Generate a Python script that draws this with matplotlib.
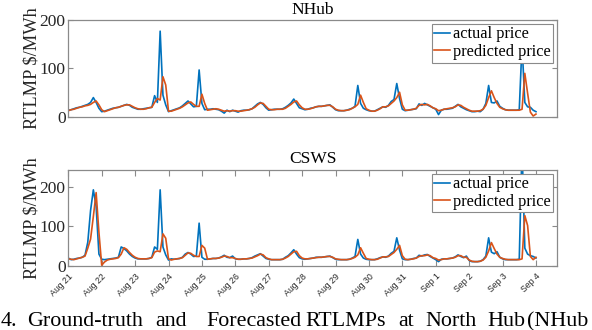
import numpy as np
import matplotlib
matplotlib.use('Agg')
import matplotlib.pyplot as plt

# ---------------- data (2-hour samples starting Aug 21 00:00) ----------------
step_hours = 2
day_labels = ['Aug 21', 'Aug 22', 'Aug 23', 'Aug 24', 'Aug 25', 'Aug 26', 'Aug 27',
              'Aug 28', 'Aug 29', 'Aug 30', 'Aug 31', 'Sep 1', 'Sep 2', 'Sep 3', 'Sep 4']

nhub_actual = [
    14, 15, 17, 19, 20, 22, 24, 26, 30, 40, 30, 18,
    11, 12, 14, 16, 18, 19, 20, 22, 24, 26, 24, 20,
    18, 16, 16, 17, 18, 19, 20, 44, 30, 177, 45, 25,
    11, 13, 15, 17, 19, 23, 28, 33, 27, 21, 22, 97,
    28, 15, 16, 16, 17, 16, 15, 12, 8, 14, 11, 14,
    12, 10, 13, 14, 14, 15, 17, 22, 27, 30, 26, 19,
    14, 15, 16, 16, 16, 17, 20, 24, 29, 37, 28, 19,
    17, 15, 16, 18, 19, 21, 22, 22, 23, 24, 25, 20,
    15, 13, 13, 13, 14, 16, 18, 22, 65, 28, 18, 15,
    13, 12, 12, 15, 18, 21, 20, 24, 32, 36, 69, 38,
    16, 13, 14, 15, 16, 17, 27, 24, 28, 25, 22, 19,
    16, 5, 14, 16, 16, 17, 18, 22, 26, 21, 18, 15,
    13, 11, 11, 12, 11, 16, 28, 65, 30, 29, 33, 22,
    18, 15, 14, 14, 14, 14, 15, 150, 30, 21, 20, 14,
    11]

nhub_pred = [
    13, 15, 16, 18, 20, 21, 23, 24, 26, 30, 33, 25,
    15, 11, 13, 15, 17, 19, 20, 22, 24, 25, 25, 22,
    19, 17, 16, 16, 17, 19, 20, 30, 38, 35, 83, 66,
    12, 12, 14, 16, 18, 21, 25, 29, 31, 26, 22, 22,
    47, 28, 14, 15, 16, 17, 16, 14, 12, 13, 12, 13,
    13, 12, 12, 13, 14, 15, 17, 20, 25, 29, 28, 22,
    16, 15, 15, 16, 16, 16, 18, 22, 26, 31, 33, 25,
    19, 16, 16, 17, 19, 21, 22, 22, 23, 24, 24, 21,
    16, 14, 13, 13, 14, 15, 18, 21, 26, 45, 30, 17,
    14, 12, 12, 14, 17, 21, 21, 23, 28, 33, 40, 51,
    25, 14, 14, 15, 16, 18, 24, 26, 25, 26, 23, 19,
    17, 13, 14, 16, 17, 18, 19, 21, 25, 24, 20, 17,
    14, 12, 12, 12, 13, 16, 24, 40, 54, 40, 28, 20,
    17, 15, 14, 14, 14, 14, 14, 16, 90, 49, 10, 2,
    6]

csws_actual = [
    20, 16, 17, 19, 20, 22, 27, 60, 140, 192, 150, 30,
    17, 16, 17, 18, 19, 20, 22, 48, 44, 38, 30, 24,
    20, 18, 18, 18, 18, 19, 22, 48, 42, 192, 48, 28,
    15, 18, 17, 18, 19, 22, 30, 34, 30, 24, 25, 108,
    22, 17, 17, 18, 19, 19, 20, 23, 27, 22, 21, 25,
    18, 17, 17, 18, 18, 19, 21, 25, 28, 31, 25, 19,
    17, 16, 16, 16, 16, 17, 22, 26, 33, 41, 30, 21,
    18, 17, 18, 19, 20, 22, 22, 22, 23, 24, 25, 21,
    17, 16, 16, 16, 16, 17, 20, 24, 67, 30, 20, 17,
    16, 16, 16, 18, 21, 23, 22, 25, 32, 37, 71, 40,
    18, 16, 16, 17, 19, 20, 27, 25, 28, 29, 24, 20,
    16, 11, 17, 18, 18, 19, 20, 23, 28, 24, 21, 25,
    14, 11, 11, 11, 12, 16, 25, 71, 35, 31, 36, 22,
    18, 16, 16, 16, 16, 16, 17, 300, 45, 30, 26, 24,
    20]

csws_pred = [
    18, 17, 16, 18, 20, 22, 25, 45, 68, 125, 185, 85,
    2, 10, 15, 17, 18, 19, 21, 30, 46, 42, 34, 27,
    22, 19, 18, 18, 18, 19, 21, 35, 38, 36, 81, 70,
    18, 15, 17, 18, 19, 21, 27, 33, 32, 27, 24, 24,
    52, 45, 17, 18, 19, 19, 20, 22, 25, 24, 21, 21,
    19, 17, 17, 18, 18, 19, 20, 23, 26, 30, 28, 21,
    18, 16, 16, 16, 16, 17, 20, 24, 30, 36, 37, 26,
    20, 18, 18, 19, 20, 21, 22, 22, 23, 24, 24, 22,
    18, 17, 16, 16, 16, 17, 19, 22, 28, 46, 32, 19,
    17, 16, 16, 17, 20, 23, 23, 24, 29, 34, 42, 52,
    26, 17, 16, 17, 18, 20, 24, 26, 26, 28, 26, 21,
    19, 15, 16, 18, 18, 19, 20, 22, 26, 26, 22, 22,
    15, 12, 11, 11, 12, 15, 22, 38, 59, 44, 30, 22,
    19, 17, 16, 16, 16, 16, 16, 18, 127, 102, 24, 16,
    22]

titles = ['NHub', 'CSWS']
legend_labels = ['actual price', 'predicted price']
ylabel = 'RTLMP $/MWh'
caption_words = ['4.', 'Ground-truth', 'and', 'Forecasted', 'RTLMPs', 'at', 'North', 'Hub', '(NHub']

# ---------------- style ----------------
BLUE = '#0072BD'
ORANGE = '#D95319'
AXC = '#8a8a8a'
TXT = '#262626'
SERIF = ['Liberation Serif', 'DejaVu Serif']

W, H = 592, 330
fig = plt.figure(figsize=(W / 100, H / 100), dpi=100)

def px_axes(left, top, right, bottom):
    return fig.add_axes([left / W, 1 - bottom / H, (right - left) / W, (bottom - top) / H])

ax1 = px_axes(68.3, 20, 557, 117)
ax2 = px_axes(68.3, 170, 557, 266)

days = np.arange(len(nhub_actual)) * step_hours / 24.0
xmax = 14.63

panels = [(ax1, nhub_actual, nhub_pred, (0, 200), 4),
          (ax2, csws_actual, csws_pred, (0, 242), 5)]

for i, (ax, act, pred, ylim, tpad) in enumerate(panels):
    ax.plot(days, act, color=BLUE, lw=1.2, label=legend_labels[0])
    ax.plot(days, pred, color=ORANGE, lw=1.2, label=legend_labels[1])
    ax.set_xlim(0, xmax)
    ax.set_ylim(*ylim)
    ax.set_yticks([0, 100, 200])
    ax.set_yticklabels(['0', '100', '200'], fontfamily=SERIF, fontsize=12.5, color=TXT)
    for s in ax.spines.values():
        s.set_color(AXC)
        s.set_linewidth(0.9)
    ax.tick_params(axis='y', direction='in', length=3.5, width=0.8, color=AXC,
                   left=True, right=True, pad=2)
    ax.set_title(titles[i], fontfamily=SERIF, fontsize=12.5, fontweight='normal',
                 color='black', pad=tpad)
    ax.set_ylabel(ylabel, fontfamily=SERIF, fontsize=13.2, color=TXT)
    ax.yaxis.set_label_coords(-0.057, 0.5)
    leg = ax.legend(loc='upper right', bbox_to_anchor=(1 - 4 / 488.7, 1 - 4 / 97),
                    borderaxespad=0, frameon=True, fancybox=False,
                    prop={'family': SERIF, 'size': 11.7},
                    handlelength=1.0, handletextpad=0.15, borderpad=0.15,
                    labelspacing=0.1, framealpha=1)
    leg.get_frame().set_edgecolor(AXC)
    leg.get_frame().set_linewidth(0.8)

ax1.set_xticks([])
ax2.set_xticks(np.arange(len(day_labels)))
ax2.set_xticklabels(day_labels, rotation=45, ha='right', va='top',
                    rotation_mode='anchor', fontsize=6.3, color=TXT,
                    fontfamily=['Liberation Sans', 'DejaVu Sans'])
ax2.tick_params(axis='x', direction='in', length=4, width=0.8, color=AXC,
                top=True, bottom=True, pad=4)

# caption fragment at bottom
cap_x = [1, 27, 155, 206, 305, 398, 425, 487, 527]
for w, x in zip(caption_words, cap_x):
    fig.text(x / W, 4 / H, w, fontfamily=SERIF, fontsize=15.8, color='black',
             ha='left', va='baseline')

fig.savefig('out.png', dpi=100)
